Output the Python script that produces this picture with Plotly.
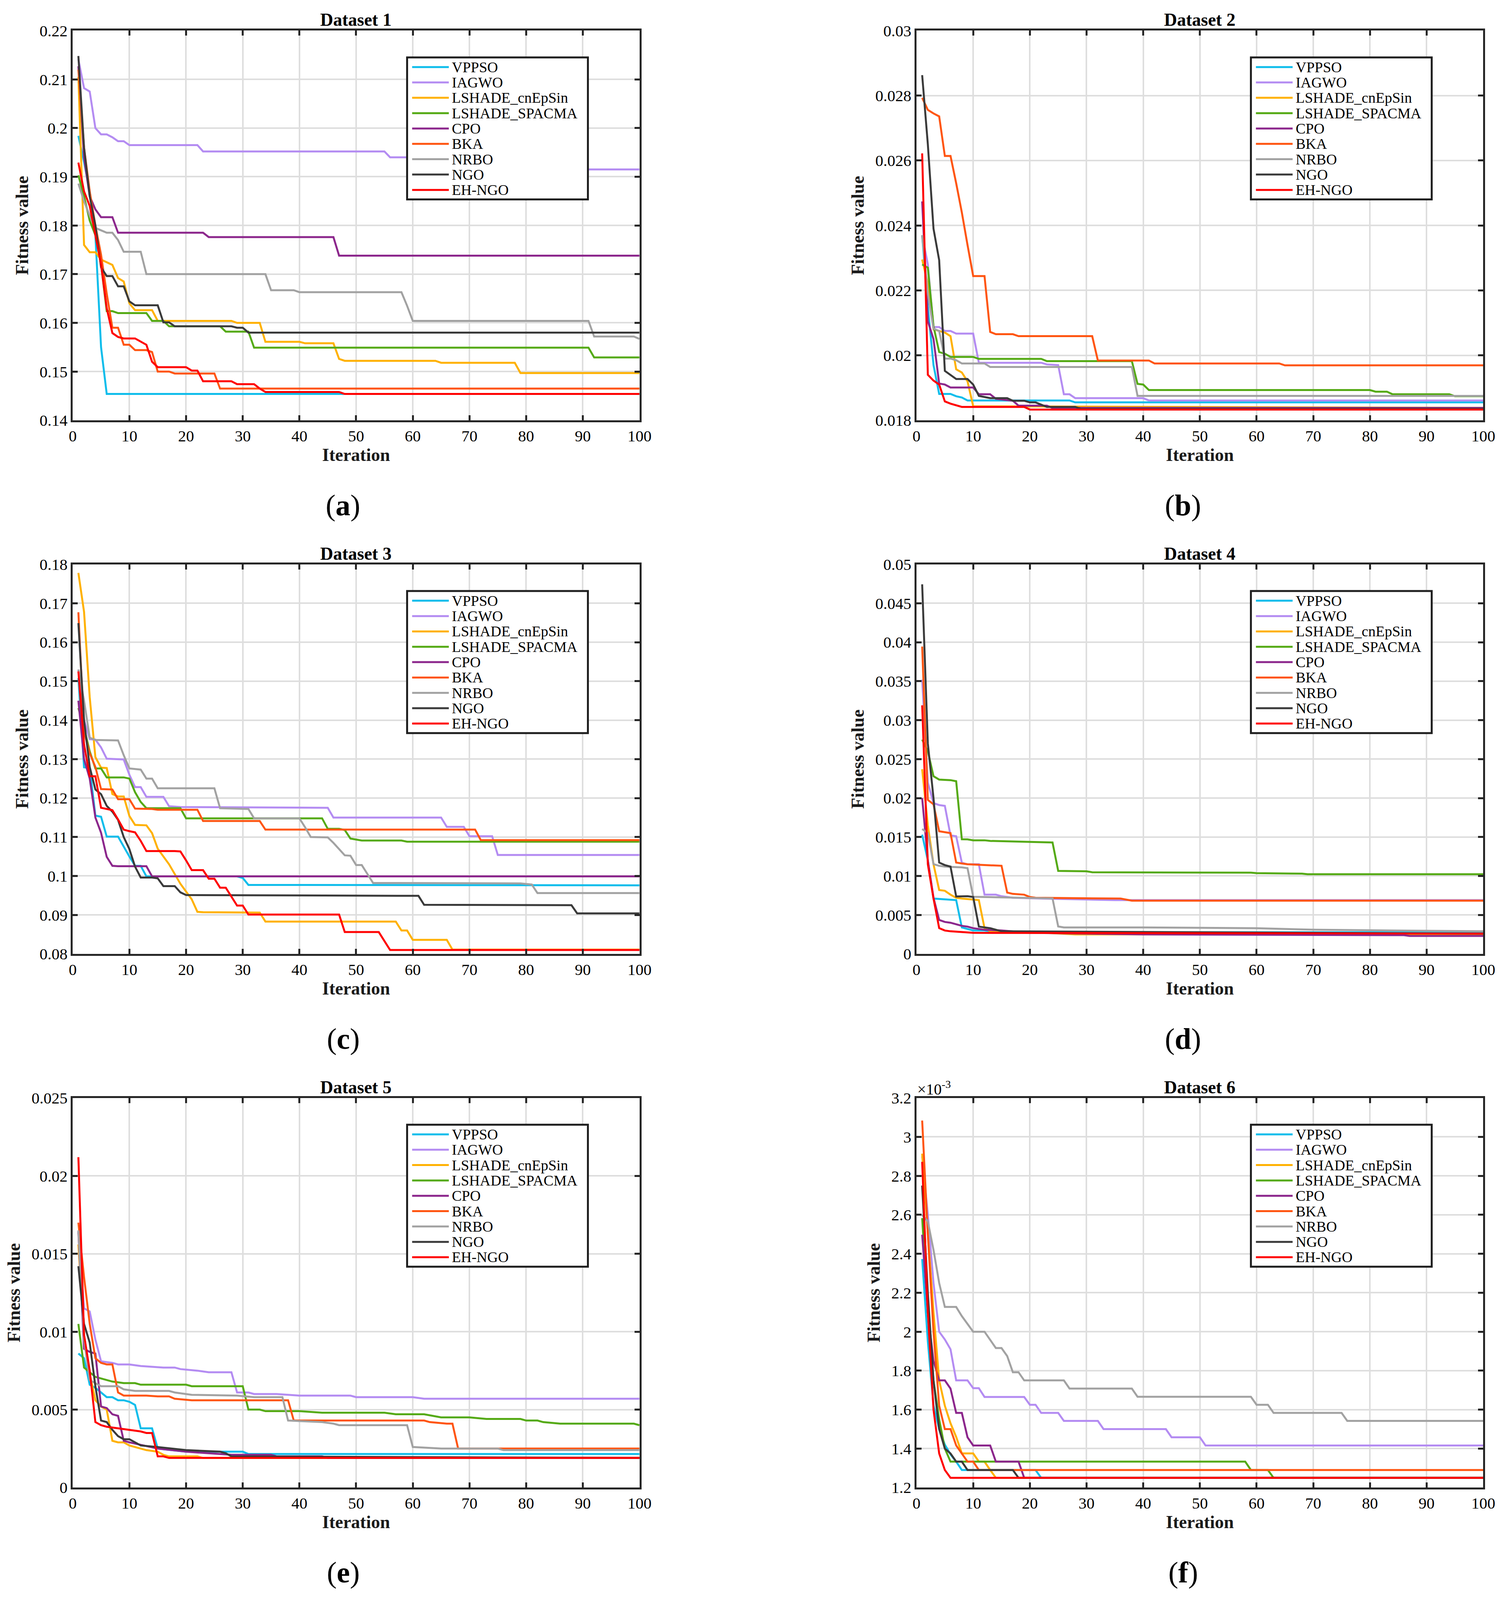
import plotly.graph_objects as go

# algorithm names and line colours (legend order)
algorithms = ["VPPSO", "IAGWO", "LSHADE_cnEpSin", "LSHADE_SPACMA", "CPO", "BKA", "NRBO", "NGO", "EH-NGO"]
colors = ["#0FBDEB", "#B48CF2", "#FFB100", "#55AA15", "#8C278C", "#FF5511", "#A2A2A2", "#3A3A3A", "#FF0000"]

titles = ["Dataset 1", "Dataset 2", "Dataset 3", "Dataset 4", "Dataset 5", "Dataset 6"]
panel_labels = ["a", "b", "c", "d", "e", "f"]

# convergence curves as (iteration, best fitness) breakpoints, one list per algorithm
dataset1 = [
    [[1, .1984], [2, .193], [3, .187], [4, .178], [5, .155], [6, .1454], [100, .1454]],
    [[1, .2141], [2, .2082], [3, .2075], [4, .200], [5, .1987], [6, .1987], [7, .1981], [8, .1973], [9, .1973],
     [10, .1965], [22, .1965], [23, .1952], [55, .1952], [56, .194], [74, .194], [75, .1915], [100, .1915]],
    [[1, .2105], [2, .176], [3, .1745], [4, .1745], [5, .173], [6, .1725], [7, .1719], [8, .1692], [9, .1685],
     [10, .164], [11, .1626], [14, .1626], [15, .1604], [28, .1604], [29, .160], [33, .160], [34, .1561],
     [40, .1561], [41, .1558], [46, .1558], [47, .1526], [48, .1522], [64, .1522], [65, .1518], [78, .1518],
     [79, .1497], [100, .1497]],
    [[1, .1903], [2, .186], [3, .181], [4, .178], [5, .172], [6, .1624], [7, .1624], [8, .162], [13, .162],
     [14, .1604], [16, .1604], [17, .1593], [26, .1593], [27, .1582], [31, .1582], [32, .1549], [91, .1549],
     [92, .1529], [100, .1529]],
    [[1, .2127], [2, .194], [3, .186], [4, .1833], [5, .1817], [7, .1817], [8, .1785], [23, .1785], [24, .1776],
     [46, .1776], [47, .1738], [100, .1738]],
    [[1, .212], [2, .196], [3, .187], [4, .180], [5, .174], [6, .166], [7, .159], [8, .159], [9, .1555],
     [10, .1555], [11, .1544], [13, .1544], [14, .154], [15, .150], [17, .150], [18, .1496], [25, .1496],
     [26, .1465], [100, .1465]],
    [[1, .1886], [2, .185], [3, .182], [4, .1795], [5, .179], [6, .1785], [7, .1785], [8, .177], [9, .1746],
     [12, .1746], [13, .170], [34, .170], [35, .1667], [39, .1667], [40, .1663], [58, .1663], [59, .1635],
     [60, .1604], [91, .1604], [92, .1572], [99, .1572], [100, .1567]],
    [[1, .2148], [2, .196], [3, .186], [4, .180], [5, .1714], [6, .1696], [7, .1696], [8, .1675], [9, .1675],
     [10, .1644], [11, .1636], [15, .1636], [16, .1601], [17, .1601], [18, .1593], [28, .1593], [29, .159],
     [30, .159], [31, .158], [100, .158]],
    [[1, .1929], [2, .187], [3, .184], [4, .178], [5, .172], [6, .163], [7, .1579], [8, .1571], [9, .1568],
     [11, .1568], [12, .1561], [13, .1555], [14, .152], [15, .1509], [20, .1509], [21, .1502], [22, .1502],
     [23, .148], [28, .148], [29, .1474], [32, .1474], [33, .1465], [34, .1458], [47, .1458], [48, .1454],
     [100, .1454]],
]

dataset2 = [
    [[1, .0237], [2, .0215], [3, .0197], [4, .01881], [6, .01881], [7, .01874], [8, .0187], [9, .01861],
     [27, .01861], [28, .01855], [100, .01855]],
    [[1, .0237], [2, .0228], [3, .02087], [4, .02087], [5, .02075], [6, .02075], [7, .02067], [10, .02067],
     [11, .01977], [22, .01977], [23, .01972], [25, .0197], [26, .0188], [27, .0188], [28, .01868],
     [40, .01868], [41, .01861], [100, .01861]],
    [[1, .02295], [2, .0222], [3, .0208], [5, .0207], [6, .02059], [7, .01957], [8, .01947], [9, .0192],
     [10, .01843], [100, .01838]],
    [[1, .0228], [2, .0227], [3, .0209], [4, .0201], [5, .02005], [6, .01995], [10, .01995], [11, .01989],
     [22, .01989], [23, .01982], [38, .01982], [39, .01912], [40, .0191], [41, .01893], [80, .01893],
     [81, .01888], [83, .01888], [84, .0188], [94, .0188], [95, .01874], [100, .01874]],
    [[1, .02474], [2, .02105], [3, .0205], [4, .01913], [5, .0191], [6, .01901], [10, .01901], [11, .0188],
     [13, .0188], [14, .01866], [17, .0186], [18, .01845], [23, .01845], [24, .01838], [100, .01838]],
    [[1, .02793], [2, .02756], [3, .02745], [4, .02736], [5, .02614], [6, .02614], [7, .0253], [8, .0244],
     [9, .0234], [10, .02244], [12, .02244], [13, .02072], [14, .02065], [17, .02065], [18, .02059],
     [31, .02059], [32, .01984], [41, .01984], [42, .01975], [64, .01975], [65, .01969], [100, .01969]],
    [[1, .0237], [2, .0219], [3, .02082], [4, .02075], [5, .0199], [6, .0199], [7, .01985], [8, .01975],
     [12, .01975], [13, .01964], [38, .01964], [39, .01875], [100, .01875]],
    [[1, .02863], [2, .0265], [3, .0239], [4, .02293], [5, .01952], [6, .0194], [7, .01927], [9, .01927],
     [10, .0191], [11, .01875], [12, .01872], [13, .01868], [16, .01868], [17, .0186], [19, .0186],
     [20, .01855], [21, .01855], [22, .01848], [23, .01841], [28, .01841], [29, .01835], [100, .01835]],
    [[1, .02622], [2, .0194], [3, .01922], [4, .0191], [5, .01858], [6, .01851], [8, .01841], [19, .01841],
     [20, .01833], [100, .01833]],
]

dataset3 = [
    [[1, .1508], [2, .1279], [3, .1277], [4, .1155], [5, .1152], [6, .1101], [8, .1101], [9, .1075], [10, .105],
     [11, .1026], [12, .1026], [13, .0999], [29, .0999], [30, .0995], [31, .0977], [100, .0976]],
    [[1, .1529], [2, .140], [3, .1351], [4, .135], [5, .133], [6, .1301], [9, .1299], [10, .126], [11, .1228],
     [12, .1228], [13, .1203], [16, .1203], [17, .1179], [19, .1177], [45, .1175], [46, .115], [65, .115],
     [66, .1126], [69, .1126], [70, .1102], [74, .1102], [75, .1054], [100, .1054]],
    [[1, .1778], [2, .1678], [3, .1459], [4, .1305], [5, .1278], [6, .1277], [7, .1210], [8, .1204], [9, .1204],
     [10, .1154], [11, .1131], [13, .113], [14, .111], [15, .107], [17, .103], [19, .098], [21, .094],
     [22, .0908], [23, .0907], [29, .0907], [30, .0906], [33, .0906], [34, .0883], [57, .0883], [58, .086],
     [59, .086], [60, .0836], [66, .0836], [67, .0811], [100, .0811]],
    [[1, .1431], [2, .138], [3, .132], [4, .1276], [5, .1276], [6, .1253], [9, .1253], [10, .125], [11, .1215],
     [12, .119], [13, .1174], [19, .1174], [20, .1148], [44, .1148], [45, .1121], [47, .1121], [48, .1118],
     [49, .1096], [51, .1091], [58, .1091], [59, .1088], [100, .1088]],
    [[1, .145], [2, .130], [3, .125], [4, .115], [5, .1111], [6, .1049], [7, .1026], [8, .1025], [13, .1025],
     [14, .0999], [100, .0999]],
    [[1, .1677], [2, .137], [3, .1315], [4, .128], [5, .1223], [7, .1222], [8, .1197], [10, .1197], [11, .1173],
     [14, .1172], [15, .117], [22, .117], [23, .1141], [33, .1141], [34, .1119], [71, .1119], [72, .1092],
     [100, .1092]],
    [[1, .153], [2, .145], [3, .1355], [4, .1349], [8, .1348], [9, .131], [10, .1276], [12, .1273], [13, .125],
     [14, .125], [15, .1225], [25, .1225], [26, .1174], [31, .1172], [32, .1148], [40, .1148], [41, .1125],
     [42, .110], [45, .1099], [46, .1085], [48, .1053], [49, .1052], [50, .1028], [51, .1028], [52, .1005],
     [53, .0982], [79, .0981], [80, .0979], [81, .0978], [82, .0956], [100, .0956]],
    [[1, .1649], [2, .140], [3, .128], [4, .1222], [5, .121], [6, .118], [7, .1165], [8, .1144], [9, .110],
     [10, .1069], [11, .1024], [12, .0996], [14, .0996], [15, .0994], [16, .0974], [18, .0974], [19, .0958],
     [20, .0951], [40, .095], [61, .0949], [62, .0926], [88, .0925], [89, .0904], [100, .0904]],
    [[1, .1525], [2, .1338], [3, .1256], [4, .1256], [5, .1175], [6, .1172], [7, .1169], [8, .1145],
     [9, .1119], [10, .1115], [11, .1112], [12, .109], [13, .1064], [18, .1064], [19, .1063], [20, .104],
     [21, .1015], [23, .1015], [24, .0993], [25, .0993], [26, .097], [27, .097], [28, .0948], [29, .0924],
     [30, .0924], [31, .0901], [47, .0901], [48, .0856], [54, .0856], [55, .0833], [56, .081], [100, .081]],
]

dataset4 = [
    [[1, .0153], [2, .012], [3, .0071], [5, .0070], [6, .0069], [7, .0069], [8, .0034], [9, .0032],
     [10, .0030], [12, .0030], [13, .0029], [24, .0028], [25, .00277], [100, .00277]],
    [[1, .0352], [2, .022], [3, .01935], [4, .0191], [5, .0190], [6, .0152], [7, .0151], [8, .0117],
     [9, .0115], [11, .0115], [12, .0076], [14, .0076], [15, .0074], [17, .0072], [22, .0071], [35, .0069],
     [100, .0069]],
    [[1, .0237], [2, .0165], [3, .0115], [4, .0082], [5, .0081], [6, .0076], [7, .0072], [8, .0071],
     [11, .0069], [12, .0033], [13, .0029], [20, .0028], [28, .0025], [100, .0025]],
    [[1, .0275], [2, .026], [3, .0228], [4, .02237], [6, .0223], [7, .02216], [8, .01471], [9, .0147],
     [10, .01458], [12, .01458], [13, .0145], [20, .01437], [22, .0143], [24, .0143], [25, .01065],
     [27, .01065], [30, .0106], [31, .01048], [41, .01048], [42, .01042], [59, .01042], [60, .01036],
     [64, .01036], [65, .0103], [68, .0103], [69, .01023], [100, .01023]],
    [[1, .020], [2, .012], [3, .0072], [4, .00435], [5, .0041], [6, .0040], [7, .0038], [8, .0036],
     [9, .0035], [10, .0033], [12, .0031], [15, .0030], [20, .0027], [40, .0025], [86, .0024], [87, .0023],
     [100, .0023]],
    [[1, .03944], [2, .01976], [3, .0192], [4, .01574], [6, .0155], [7, .01172], [8, .0116], [9, .0115],
     [12, .0114], [15, .01131], [16, .00787], [17, .0077], [19, .0076], [20, .0073], [21, .0072],
     [36, .0071], [38, .00683], [100, .00683]],
    [[1, .01603], [2, .0155], [3, .01152], [4, .0113], [5, .0112], [8, .0111], [9, .0110], [10, .00733],
     [24, .00712], [25, .00352], [26, .0034], [40, .0034], [60, .0033], [70, .0031], [100, .0029]],
    [[1, .04743], [2, .027], [3, .020], [4, .01172], [5, .0114], [6, .0112], [7, .00737], [9, .0074],
     [10, .0073], [11, .0035], [13, .0033], [15, .0029], [100, .0026]],
    [[1, .0319], [2, .0115], [3, .0071], [4, .00331], [5, .0030], [6, .0029], [8, .0028], [10, .0027],
     [100, .0026]],
]

dataset5 = [
    [[1, .0086], [2, .0083], [3, .0066], [4, .0064], [5, .0061], [6, .0058], [7, .0058], [8, .0056],
     [9, .0056], [10, .0055], [11, .0053], [12, .0038], [14, .0038], [15, .0025], [20, .0023], [30, .0023],
     [31, .00215], [100, .00215]],
    [[1, .0165], [2, .0115], [3, .0113], [4, .0095], [5, .0081], [7, .0080], [8, .0079], [10, .0079],
     [12, .0078], [16, .0077], [18, .0077], [19, .0076], [22, .0075], [24, .0074], [28, .0074], [29, .0061],
     [31, .0061], [32, .0060], [36, .0060], [40, .0059], [49, .0059], [50, .0058], [60, .0058], [62, .0057],
     [100, .0057]],
    [[1, .0156], [2, .0098], [3, .0073], [4, .0056], [5, .0052], [6, .0050], [7, .0030], [8, .0029],
     [9, .0029], [10, .0027], [12, .0025], [13, .0024], [15, .0023], [16, .0021], [17, .0020], [22, .0020],
     [23, .0019], [100, .0019]],
    [[1, .0105], [2, .0077], [3, .0074], [4, .0071], [5, .0070], [6, .0069], [7, .0068], [9, .0067],
     [11, .0067], [12, .0066], [20, .0066], [21, .0065], [30, .0065], [31, .0050], [33, .0050], [34, .0049],
     [40, .0049], [44, .0048], [55, .0048], [57, .0047], [62, .0047], [65, .0045], [70, .0045], [73, .0044],
     [79, .0044], [80, .0043], [82, .0043], [83, .0042], [86, .0041], [99, .0041], [100, .0040]],
    [[1, .0164], [2, .0089], [3, .0087], [4, .0086], [5, .0052], [6, .0051], [7, .0047], [8, .0046],
     [9, .0030], [10, .0029], [15, .0025], [20, .0023], [28, .0021], [35, .0021], [36, .0020], [44, .0020],
     [45, .0019], [100, .0019]],
    [[1, .0170], [2, .0135], [3, .0105], [4, .0083], [5, .0080], [6, .0079], [7, .0079], [8, .0061],
     [9, .0059], [13, .0059], [15, .00585], [17, .00585], [18, .0057], [21, .0056], [38, .0056], [39, .0043],
     [62, .0043], [63, .0042], [66, .0041], [67, .0041], [68, .0025], [100, .0025]],
    [[1, .0165], [2, .0095], [3, .0069], [4, .0067], [5, .0065], [8, .0065], [9, .0063], [11, .0062],
     [17, .0062], [18, .0061], [20, .0060], [21, .00595], [29, .0059], [32, .0058], [37, .0058], [38, .0043],
     [44, .0042], [46, .0041], [47, .0040], [59, .0040], [60, .0026], [65, .0025], [75, .0025], [76, .0024],
     [100, .0024]],
    [[1, .0142], [2, .0105], [3, .0093], [4, .0065], [5, .0043], [6, .0042], [7, .0037], [8, .0033],
     [9, .0031], [10, .0031], [11, .0029], [12, .0027], [15, .0026], [20, .0024], [26, .0023], [27, .0022],
     [28, .0020], [100, .0019]],
    [[1, .0212], [2, .0098], [3, .0075], [4, .0042], [5, .0040], [6, .0039], [8, .0038], [10, .0037],
     [12, .0036], [13, .0035], [14, .0035], [15, .0020], [16, .0020], [17, .0019], [100, .0019]],
]

# dataset 6 values are in units of 1e-3
dataset6 = [
    [[1, 2.373], [2, 1.95], [3, 1.622], [4, 1.5], [5, 1.42], [6, 1.37], [7, 1.333], [8, 1.29], [21, 1.29],
     [22, 1.25], [100, 1.25]],
    [[1, 2.9], [2, 2.6], [3, 2.25], [4, 2.0], [5, 1.96], [6, 1.91], [7, 1.75], [9, 1.75], [10, 1.71],
     [11, 1.71], [12, 1.665], [19, 1.665], [20, 1.625], [21, 1.625], [22, 1.583], [25, 1.583], [26, 1.542],
     [32, 1.542], [33, 1.5], [44, 1.5], [45, 1.458], [50, 1.458], [51, 1.416], [100, 1.416]],
    [[1, 2.914], [2, 2.5], [3, 2.1], [4, 1.75], [5, 1.62], [6, 1.53], [7, 1.46], [8, 1.375], [10, 1.375],
     [11, 1.333], [12, 1.333], [13, 1.29], [14, 1.25], [100, 1.25]],
    [[1, 2.583], [2, 2.1], [3, 1.75], [4, 1.55], [5, 1.4], [6, 1.333], [58, 1.333], [59, 1.29], [62, 1.29],
     [63, 1.25], [100, 1.25]],
    [[1, 2.498], [2, 2.1], [3, 1.85], [4, 1.75], [5, 1.75], [6, 1.708], [7, 1.583], [8, 1.583], [9, 1.458],
     [10, 1.416], [13, 1.416], [14, 1.333], [18, 1.333], [19, 1.25], [100, 1.25]],
    [[1, 3.084], [2, 2.5], [3, 2.0], [4, 1.62], [5, 1.5], [6, 1.5], [7, 1.416], [8, 1.375], [9, 1.333],
     [10, 1.333], [11, 1.29], [100, 1.29]],
    [[1, 2.6], [2, 2.566], [3, 2.42], [4, 2.25], [5, 2.127], [7, 2.127], [8, 2.08], [9, 2.04], [10, 2.0],
     [12, 2.0], [13, 1.958], [14, 1.916], [15, 1.916], [16, 1.875], [17, 1.792], [18, 1.792], [19, 1.75],
     [26, 1.75], [27, 1.708], [38, 1.708], [39, 1.666], [59, 1.666], [60, 1.625], [62, 1.625], [63, 1.583],
     [75, 1.583], [76, 1.542], [100, 1.542]],
    [[1, 2.75], [2, 2.2], [3, 1.75], [4, 1.5], [5, 1.4], [6, 1.375], [7, 1.333], [8, 1.333], [9, 1.29],
     [17, 1.29], [18, 1.25], [100, 1.25]],
    [[1, 2.872], [2, 2.1], [3, 1.6], [4, 1.375], [5, 1.29], [6, 1.25], [100, 1.25]],
]

datasets = [dataset1, dataset2, dataset3, dataset4, dataset5, dataset6]
y_ranges = [[0.14, 0.22], [0.018, 0.03], [0.08, 0.18], [0, 0.05], [0, 0.025], [1.2, 3.2]]
y_dticks = [0.01, 0.002, 0.01, 0.005, 0.005, 0.2]

FONT = "Liberation Serif"

# the browser viewport is only 4096 px tall, so the 3872x4678 design is
# squeezed vertically; the page body also has an 8 px margin
REF_W, REF_H = 3872, 4678
VIEW_H = 4096
BODY = 8
W = REF_W - BODY
H = VIEW_H - BODY
SY = VIEW_H / REF_H


def paper_x(px):
    return (px - BODY) / W


def paper_y(py):
    return 1 - (py * SY - BODY) / H


# panel geometry in reference pixels
col_left = [178, 2362]
row_top = [64, 1642, 3220]
ax_w, ax_h = 1467, 1152
label_x = [878, 3052]
label_dy = 1403

fig = go.Figure()
layout = dict(
    width=W, height=H,
    margin=dict(l=0, r=0, t=0, b=0),
    paper_bgcolor="white", plot_bgcolor="white",
    showlegend=False,
    font=dict(family=FONT, size=40, color="black"),
)
annotations = []
shapes = []

for k in range(6):
    r, c = k // 2, k % 2
    n = "" if k == 0 else str(k + 1)

    for name, color, pts in zip(algorithms, colors, datasets[k]):
        fig.add_trace(
            go.Scatter(
                x=[p[0] for p in pts],
                y=[p[1] for p in pts],
                mode="lines",
                name=name,
                line=dict(color=color, width=5),
                xaxis="x" + n,
                yaxis="y" + n,
            )
        )

    common = dict(
        showline=True, linewidth=5, linecolor="#262626", mirror="ticks",
        ticks="inside", ticklen=13, tickwidth=5, tickcolor="#262626",
        showgrid=True, gridcolor="#DEDEDE", gridwidth=4, zeroline=False,
        tickfont=dict(family=FONT, size=41, color="black"),
    )
    layout["xaxis" + n] = dict(
        common,
        domain=[paper_x(col_left[c]), paper_x(col_left[c] + ax_w)],
        anchor="y" + n, range=[0, 100], dtick=10, tick0=0,
        title=dict(text="<b>Iteration</b>", font=dict(family=FONT, size=46, color="#1a1a1a"), standoff=6),
    )
    layout["yaxis" + n] = dict(
        common,
        domain=[paper_y(row_top[r] + ax_h), paper_y(row_top[r])],
        anchor="x" + n, range=y_ranges[k], dtick=y_dticks[k], tick0=0,
        title=dict(text="<b>Fitness value</b>", font=dict(family=FONT, size=46, color="#1a1a1a"), standoff=16),
    )

    xd = "x" + n + " domain"
    yd = "y" + n + " domain"
    annotations.append(dict(
        text="<b>" + titles[k] + "</b>", xref=xd, yref=yd, x=0.5, y=1,
        xanchor="center", yanchor="bottom", showarrow=False,
        font=dict(family=FONT, size=46, color="black"),
    ))
    annotations.append(dict(
        text="(<b>" + panel_labels[k] + "</b>)", xref="paper", yref="paper",
        x=paper_x(label_x[c]), y=paper_y(row_top[r] + label_dy),
        xanchor="center", yanchor="middle", showarrow=False,
        font=dict(family=FONT, size=76, color="black"),
    ))
    if k == 5:
        annotations.append(dict(
            text="×10<sup>-3</sup>", xref=xd, yref=yd, x=0, y=1,
            xanchor="left", yanchor="bottom", yshift=-2, showarrow=False,
            font=dict(family=FONT, size=40, color="black"),
        ))

    # legend box drawn inside each panel (fractions of the axes box)
    lx0, lx1 = 0.590, 0.909
    ly1 = 1 - 79 / ax_h
    ly0 = 1 - 499 / ax_h
    shapes.append(dict(
        type="rect", xref=xd, yref=yd, x0=lx0, x1=lx1, y0=ly0, y1=ly1,
        fillcolor="white", line=dict(color="#1f1f1f", width=5), layer="above",
    ))
    for i, (name, color) in enumerate(zip(algorithms, colors)):
        yy = ly1 - (28.7 + i * 45.4) / ax_h
        shapes.append(dict(
            type="line", xref=xd, yref=yd, x0=lx0 + 13 / ax_w, x1=lx0 + 108 / ax_w, y0=yy, y1=yy,
            line=dict(color=color, width=5), layer="above",
        ))
        annotations.append(dict(
            text=name, xref=xd, yref=yd, x=lx0 + 114 / ax_w, y=yy,
            xanchor="left", yanchor="middle", showarrow=False,
            font=dict(family=FONT, size=38, color="black"),
        ))

layout["annotations"] = annotations
layout["shapes"] = shapes
fig.update_layout(**layout)

fig.write_html("out.html")
